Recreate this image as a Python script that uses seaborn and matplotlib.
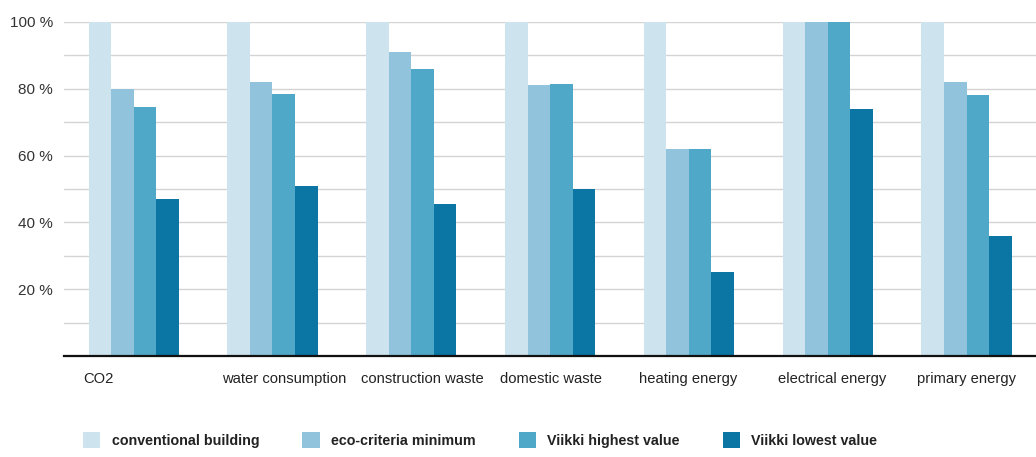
import pandas as pd
import numpy as np
import matplotlib.pyplot as plt
import seaborn as sns
from matplotlib.patches import Patch

# datos (porcentaje respecto al edificio convencional)
categories = ['CO2', 'water consumption', 'construction waste', 'domestic waste',
              'heating energy', 'electrical energy', 'primary energy']
series_names = ['conventional building', 'eco-criteria minimum',
                'Viikki highest value', 'Viikki lowest value']
conventional = [100, 100, 100, 100, 100, 100, 100]
eco_minimum = [80, 82, 91, 81, 62, 100, 82]
viikki_high = [74.5, 78.5, 86, 81.5, 62, 100, 78]
viikki_low = [47, 51, 45.5, 50, 25, 74, 36]
y_ticks = [20, 40, 60, 80, 100]

colors = ['#cde4ef', '#92c3dc', '#50a8c9', '#0b76a3']

# tabla larga para seaborn
df = pd.DataFrame({
    'category': categories * 4,
    'series': np.repeat(series_names, len(categories)),
    'value': conventional + eco_minimum + viikki_high + viikki_low,
})

sns.set_style('white')
plt.rcParams['font.family'] = ['Liberation Sans', 'DejaVu Sans']

fig = plt.figure(figsize=(10.36, 4.57), dpi=100)
ax = fig.add_axes([0.062, 0.221, 0.938, 0.731])

sns.barplot(data=df, x='category', y='value', hue='series', order=categories,
            hue_order=series_names, palette=colors, width=0.65, saturation=1,
            edgecolor='none', linewidth=0, ax=ax, legend=False, zorder=3)

ax.set_xlim(-0.5, len(categories) - 0.5)
ax.set_ylim(0, 100)
for p in ax.patches:
    p.set_clip_on(False)

# lineas de fondo cada 10 %
for g in range(10, 101, 10):
    ax.axhline(g, color='#d4d4d4', lw=1, zorder=1)

for s in ['top', 'right', 'left']:
    ax.spines[s].set_visible(False)
ax.spines['bottom'].set_color('#111111')
ax.spines['bottom'].set_linewidth(1.6)
ax.spines['bottom'].set_zorder(5)

ax.set_yticks(y_ticks)
ax.set_yticklabels([f'{t} %' for t in y_ticks], fontsize=11, color='#333333')
ax.tick_params(axis='y', length=0, pad=8)

# etiquetas de categoria alineadas a la izquierda del grupo
ax.set_xticks([])
trans = ax.get_xaxis_transform()
for i, c in enumerate(categories):
    ax.text(i - 0.36, -0.07, c, transform=trans, ha='left', va='center',
            fontsize=10.6, color='#222222')

ax.set_xlabel('')
ax.set_ylabel('')

handles = [Patch(facecolor=c, edgecolor='none') for c in colors]
fig.legend(handles, series_names, loc='center left', bbox_to_anchor=(0.068, 0.037),
           ncol=4, frameon=False, handlelength=1.2, handleheight=1.4,
           handletextpad=0.8, columnspacing=3.0,
           prop={'size': 10.3, 'weight': 'bold'}, labelcolor='#222222')

fig.savefig('out.png', dpi=100, facecolor='white')
